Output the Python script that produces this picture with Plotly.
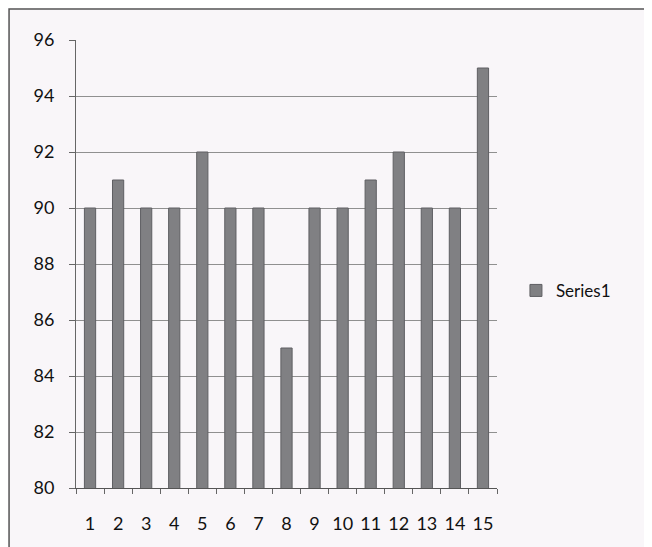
import plotly.graph_objects as go

categories = [str(i) for i in range(1, 16)]
values = [90, 91, 90, 90, 92, 90, 90, 85, 90, 90, 91, 92, 90, 90, 95]
series_name = "Series1"

fig = go.Figure()
fig.add_trace(go.Bar(
    x=categories, y=values, name=series_name,
    marker=dict(color="#808083", line=dict(color="#5f5f63", width=1)),
    width=0.4, showlegend=True,
))

fig.update_layout(
    width=644, height=539,
    margin=dict(l=68, r=155, t=32, b=59, autoexpand=False),
    paper_bgcolor="#f9f6f9", plot_bgcolor="#f9f6f9",
    font=dict(family="Lato, Liberation Sans, Arial", size=18, color="#111111"),
    showlegend=True,
    legend=dict(x=1.045, y=0.44, xanchor="left", yanchor="middle",
                font=dict(size=17), bgcolor="rgba(0,0,0,0)"),
)
fig.update_xaxes(
    type="category", tickson="boundaries", ticks="outside", ticklen=5,
    tickcolor="#666", showline=True, linecolor="#555", linewidth=1,
    showgrid=False, tickfont=dict(size=18), ticklabelstandoff=19,
    tickangle=0,
)
fig.update_yaxes(
    range=[80, 96], dtick=2, ticks="outside", ticklen=6, tickcolor="#666",
    showline=True, linecolor="#666", linewidth=1,
    showgrid=True, gridcolor="#909090", gridwidth=1, zeroline=False,
    tickfont=dict(size=18), ticklabelstandoff=11,
)
fig.add_shape(type="rect", xref="paper", yref="paper",
              x0=-0.159, x1=1.5, y0=-0.2, y1=1.069,
              line=dict(color="#555", width=1.5), fillcolor="rgba(0,0,0,0)")
fig.write_html("out.html")
